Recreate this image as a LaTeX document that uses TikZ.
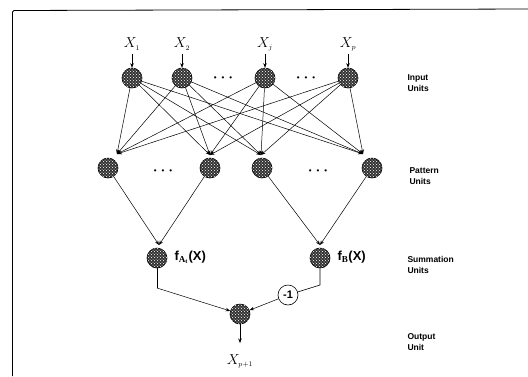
\documentclass[tikz,border=0pt]{standalone}
\usepackage{fontspec}
\setmainfont{Liberation Serif}
\setsansfont{Liberation Sans}
\usetikzlibrary{patterns,arrows.meta}
\begin{document}
\begin{tikzpicture}[x=1pt,y=-1pt,
  unit/.style={circle,minimum size=20pt,inner sep=0pt,draw=black,line width=0.6pt,
     fill=black!80,postaction={pattern=crosshatch dots,pattern color=white}},
  neg/.style={circle,minimum size=20pt,inner sep=0pt,draw=black,line width=0.6pt,fill=white,
     font=\sffamily\bfseries\fontsize{11}{12}\selectfont},
  lab/.style={font=\sffamily\bfseries\fontsize{8.5}{11}\selectfont,align=left,anchor=west},
  xlab/.style={font=\itshape\fontsize{15}{15}\selectfont},
  flab/.style={font=\sffamily\bfseries\fontsize{13}{13}\selectfont,anchor=west},
  dotsl/.style={font=\sffamily\fontsize{8}{8}\selectfont},
  con/.style={line width=0.5pt,-{Stealth[length=4.5pt,width=3.5pt]}},
  wire/.style={line width=0.6pt}]
\useasboundingbox (0,0) rectangle (528,376);
% frame
\draw[line width=0.8pt] (12.5,376) -- (12.5,12) -- (14,10.5) -- (528,9);

% input labels
\node[xlab] (x1) at (132,44) {$X_{\scriptscriptstyle 1}$};
\node[xlab] (x2) at (182,44) {$X_{\scriptscriptstyle 2}$};
\node[xlab] (xj) at (265,44) {$X_{\scriptscriptstyle j}$};
\node[xlab] (xp) at (348,44) {$X_{\scriptscriptstyle p}$};

% input units
\node[unit] (i1) at (132,78) {};
\node[unit] (i2) at (182,78) {};
\node[unit] (i3) at (265,78) {};
\node[unit] (i4) at (348,78) {};
\node[dotsl] (d1) at (223,79) {\textbullet\hspace{5pt}\textbullet\hspace{5pt}\textbullet};
\node[dotsl] (d2) at (306,79) {\textbullet\hspace{5pt}\textbullet\hspace{5pt}\textbullet};
\foreach \a/\b in {x1/i1,x2/i2,xj/i3,xp/i4}
  \draw[con] (\a) -- (\b);

% pattern units
\node[unit] (p1) at (108,168) {};
\node[unit] (p2) at (210,168) {};
\node[unit] (p3) at (262,168) {};
\node[unit] (p4) at (372,168) {};
\node[dotsl] (d3) at (163,172) {\textbullet\hspace{5pt}\textbullet\hspace{5pt}\textbullet};
\node[dotsl] (d4) at (318,172) {\textbullet\hspace{5pt}\textbullet\hspace{5pt}\textbullet};
\coordinate (t1) at (117,154);
\coordinate (t2) at (210,155);
\coordinate (t3) at (261,155);
\coordinate (t4) at (363,154);
\foreach \i in {i1,i2,i3,i4}
  \foreach \t in {t1,t2,t3,t4}
    \draw[con] (\i) -- (\t);

% summation units
\node[unit] (sa) at (157,258) {};
\node[unit] (sb) at (320,258) {};
\coordinate (sat) at (159,245);
\coordinate (sbt) at (320,245);
\draw[con] (p1) -- (sat);
\draw[con] (p2) -- (sat);
\draw[con] (p3) -- (sbt);
\draw[con] (p4) -- (sbt);
\node[flab] (fa) at (171,257) {f$_{\mathbf{A_t}}$(X)};
\node[flab] (fb) at (334,257) {f$_{\mathbf{B}}$(X)};

% output
\node[unit] (o) at (240,314) {};
\node[neg] (m1) at (288,295) {-1};
\coordinate (ca) at (157,288);
\coordinate (cb) at (320,285);
\draw[wire] (sa) -- (ca);
\draw[con] (ca) -- (o);
\draw[wire] (sb) -- (cb) -- (m1);
\draw[con] (m1) -- (o);
\coordinate (oe) at (240,343);
\draw[con] (o) -- (oe);
\node[xlab] (xo) at (240,361) {$X_{\scriptscriptstyle p+1}$};

% right labels
\node[lab] (li) at (404,83) {Input\\Units};
\node[lab] (lp) at (406,176) {Pattern\\Units};
\node[lab] (ls) at (404,265) {Summation\\Units};
\node[lab] (lo) at (404,342) {Output\\Unit};
\end{tikzpicture}
\end{document}
